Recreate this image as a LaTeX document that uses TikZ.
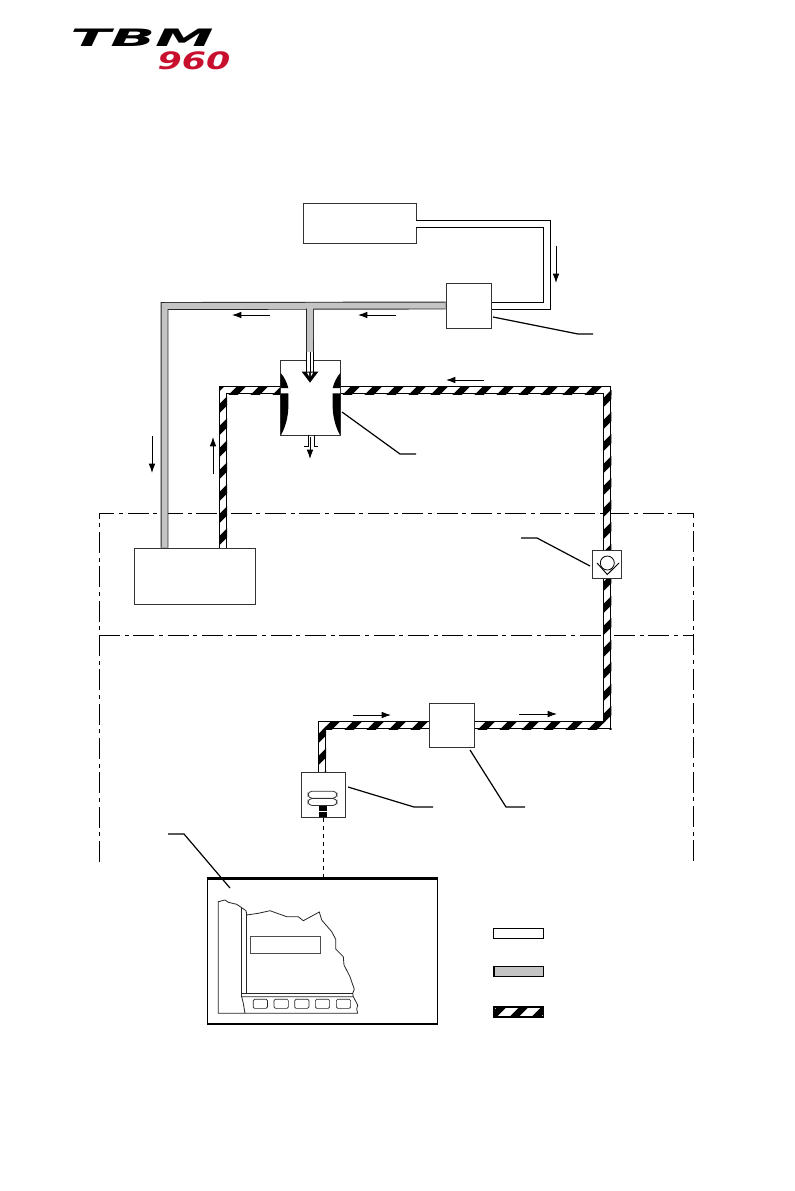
\documentclass[tikz,border=0pt]{standalone}
\usepackage{xcolor}
\usepackage{fontspec}
\newfontfamily\logofont{DejaVu Sans}
\usetikzlibrary{arrows.meta}
\definecolor{pipegrey}{HTML}{C4C4C4}
\definecolor{logored}{HTML}{C8102E}
\tikzset{
unitbox/.style 2 args={draw=black!80,fill=white,line width=0.7pt,inner sep=0pt,minimum width=#1*0.75pt,minimum height=#2*0.75pt},
whitepipe/.style={draw=black,line width=0.75pt,double=white,double distance=4.5pt},
greypipe/.style={draw=black!85,line width=0.7pt,double=pipegrey,double distance=4.5pt},
stripeline/.style={black,line width=4.8pt},
flowarrow/.style={-{Latex[length=7pt,width=5pt]},line width=0.7pt},
leaderline/.style={line width=0.9pt},
frameline/.style={line width=0.6pt,dash pattern=on 15.75pt off 3.5pt on 3pt off 3.5pt},
sketchline/.style={black!85,line width=0.6pt}
}
\newcommand{\hatchrun}[5]{
\begin{scope}
\clip (#1,#2) rectangle (#3,#4);
\foreach \n in {0,...,75} \draw[stripeline] (#5+22*\n,0) -- (0,#5+22*\n);
\end{scope}
}
\begin{document}
\begin{tikzpicture}[x=0.75pt,y=-0.75pt]
\useasboundingbox (0,0) rectangle (794,1191);
\fill[white] (0,0) rectangle (794,1191);
% logo
\node[font=\logofont\bfseries\itshape\fontsize{18}{18}\selectfont,xscale=2.45,inner sep=0pt] (logotbm) at (142,38) {TBM};
\node[font=\logofont\bfseries\itshape\fontsize{18}{18}\selectfont,xscale=1.45,inner sep=0pt,logored] (logonum) at (194,61) {960};
% outer zones
\draw[frameline] (99,862) -- (99,513) -- (693,513) -- (693,862);
\draw[frameline] (99,635) -- (693,635);
% units
\node[unitbox={113}{40}] (bleedbox) at (359.5,223.7) {};
\node[unitbox={45}{45}] (mixbox) at (468.5,305.5) {};
\node[unitbox={121}{56}] (cabinbox) at (194.5,576) {};
\node[unitbox={60}{74.5}] (jetbox) at (310.5,397.8) {};
\node[unitbox={29}{28}] (valvebox) at (607.3,564) {};
\node[unitbox={45}{44}] (flowbox) at (451.5,725.3) {};
\node[unitbox={44}{45}] (sensorbox) at (323,794.5) {};
% pipe corners
\foreach \nm/\x/\y in {feedNE/546.5/223.7, feedSE/546.5/305.5, greyNW/164.5/306, greyT/310/306, greyEnd/310/352, jetIn/310/372,
hotNW/223/390, jetL/282/390, jetR/339/390, hotNE/607.3/390, lowSE/607.3/725.3, lowSW/322/725.3}
\coordinate (\nm) at (\x,\y);
% white bleed pipe
\draw[whitepipe] (bleedbox.east) -- (feedNE) -- (feedSE) -- (mixbox.east);
% grey pipe
\draw[greypipe] (mixbox.west) -- (greyNW) -- (greyNW |- cabinbox.north) (greyT) -- (greyEnd);
% striped pipes
\draw[whitepipe] (hotNW |- cabinbox.north) -- (hotNW) -- (jetL);
\draw[whitepipe] (jetR) -- (hotNE) -- (valvebox.north);
\draw[whitepipe] (valvebox.south) -- (lowSE) -- (flowbox.east);
\draw[whitepipe] (flowbox.west) -- (lowSW) -- (lowSW |- sensorbox.north);
\hatchrun{219}{386}{227}{548}{12}
\hatchrun{219}{386}{281}{394}{12}
\hatchrun{340}{386}{611.3}{394}{16}
\hatchrun{603.3}{386}{611.3}{550}{16}
\hatchrun{603.3}{578}{611.3}{729.3}{2}
\hatchrun{474}{721.3}{611.3}{729.3}{2}
\hatchrun{318}{721.3}{429}{729.3}{1}
\hatchrun{318}{721.3}{326}{772}{1}
% redraw boxes over the pipes
\node[unitbox={45}{45}] at (mixbox) {};
\node[unitbox={121}{56}] at (cabinbox) {};
\node[unitbox={60}{74.5}] at (jetbox) {};
\node[unitbox={29}{28}] at (valvebox) {};
\node[unitbox={45}{44}] at (flowbox) {};
\node[unitbox={44}{45}] at (sensorbox) {};
\draw[greypipe] (greyT |- 0,340) -- (greyEnd);
% jet pump
\draw[whitepipe] (greyEnd) -- (jetIn);
\draw[line width=0.7pt] (greyEnd) -- (jetIn);
\fill (301.7,371.7) -- (318.3,371.7) -- (310,382.7) -- cycle;
\fill[white] (306.8,372.5) -- (309.2,372.5) -- (309.2,376.5) -- cycle;
\fill[white] (313.2,372.5) -- (310.8,372.5) -- (310.8,376.5) -- cycle;
\fill (280.7,373) .. controls (285,378) and (287,383) .. (288.3,388) -- (280.7,388) -- cycle;
\fill (280.7,393.3) -- (288.3,393.3) -- (288.3,408) .. controls (288,418) and (285,428) .. (281,435) -- cycle;
\fill (340.3,373) .. controls (336,378) and (334,383) .. (332.7,388) -- (340.3,388) -- cycle;
\fill (340.3,393.3) -- (332.7,393.3) -- (332.7,408) .. controls (333,418) and (336,428) .. (340,435) -- cycle;
\draw[line width=0.7pt] (303.5,446) -- (308,446) -- (308,435);
\draw[line width=0.7pt] (318,446) -- (314,446) -- (314,435);
% check valve
\draw[line width=0.6pt] (607.3,563) circle (7);
\draw[line width=0.7pt] (597,563) -- (607.3,574.5) -- (619,563);
% sensor
\node[draw=black!80,line width=0.6pt,rounded corners=3pt,minimum width=21.75pt,minimum height=5.25pt,inner sep=0pt] (pilltop) at (322.5,794.7) {};
\node[draw=black!80,line width=0.6pt,rounded corners=3pt,minimum width=21.75pt,minimum height=5.25pt,inner sep=0pt] (pillbot) at (322.5,802) {};
\node[fill=black,minimum width=5.8pt,minimum height=4.1pt,inner sep=0pt] (plugtop) at (323,808.5) {};
\node[fill=black,minimum width=5.8pt,minimum height=4.1pt,inner sep=0pt] (plugbot) at (323,814.7) {};
% panel
\node[draw,line width=0.9pt,inner sep=0pt,minimum width=173pt,minimum height=108.75pt] (panelbox) at (322.5,951.5) {};
\draw[line width=1.8pt] (panelbox.north west) -- (panelbox.north east);
\draw[dashed,line width=0.7pt] (plugbot) -- (plugbot |- panelbox.north);
\draw[sketchline] (246,1013.3) -- (218.3,1013.3) -- (218.3,901.7) -- (225,900) -- (228.3,902.3) -- (236.7,904.3) -- (241.7,907.7) -- (246,910.7) -- (246.7,915) -- (258.3,913.3) -- (270,910.7) -- (286.7,916.7) -- (298.3,916.7) -- (303.3,920.7) -- (319.3,912) -- (321.7,920) -- (331.7,931.7) -- (335.7,939.3) -- (335.7,949) -- (343.3,956.7) -- (344,965) -- (350,976.7) -- (354.3,989.3) -- (352.7,993.3) -- (353.3,996.7) -- (357.7,1005) -- (356.7,1009.3) -- (357.7,1013.3) -- (245,1013.3) -- (243.3,1003.3) -- (241.7,996.7) -- (353.3,996.7);
\draw[sketchline] (241.7,907.7) -- (241.7,996.7);
\draw[sketchline] (246,912) -- (246,993.3);
\draw[sketchline] (241.7,993.3) -- (352.7,993.3);
\node[draw=black!70,line width=0.6pt,inner sep=0pt,minimum width=52pt,minimum height=12.5pt] (panelplate) at (285.3,945) {};
\foreach \nm/\x in {knobA/260.3,knobB/281.2,knobC/301.8,knobD/322.5,knobE/343.5}
\node[draw=black!85,line width=0.5pt,rounded corners=1pt,inner sep=0pt,minimum width=10.7pt,minimum height=6.8pt] (\nm) at (\x,1003.8) {};
% flow arrows
\foreach \nm/\x/\y in {feedS/556/246, feedE/556/283, greyAS/270/315, greyAE/232/315, greyBS/396/315, greyBE/358/315,
hotAS/484/380, hotAE/446/380, greyCS/152/436, greyCE/152/473, hotBS/213/474, hotBE/213/437,
lowAS/353/715, lowAE/391/715, lowBS/519/714, lowBE/557/714, ventS/310/437, ventE/310/459}
\coordinate (\nm) at (\x,\y);
\foreach \a/\b in {feedS/feedE, greyAS/greyAE, greyBS/greyBE, hotAS/hotAE, greyCS/greyCE, hotBS/hotBE, lowAS/lowAE, lowBS/lowBE, ventS/ventE}
\draw[flowarrow] (\a) -- (\b);
% leader lines
\foreach \nm/\x/\y in {mixA/493/317, mixB/578/334, mixC/593/334, jetA/342/412, jetB/400/454, jetC/416/454,
valveA/590/566, valveB/537/538, valveC/521/538, sensA/348/787, sensB/414/807, sensC/433/807,
flowA/470/750, flowB/506/807, flowC/525/807, panelA/230/888, panelB/184/834, panelC/168/834}
\coordinate (\nm) at (\x,\y);
\foreach \a/\b/\c in {mixA/mixB/mixC, jetA/jetB/jetC, valveA/valveB/valveC, sensA/sensB/sensC, flowA/flowB/flowC, panelA/panelB/panelC}
\draw[leaderline] (\a) -- (\b) -- (\c);
% legend
\node[draw,line width=0.9pt,fill=white,inner sep=0pt,minimum width=37.5pt,minimum height=7.5pt] (legendwhite) at (518.3,933.3) {};
\node[draw,line width=0.9pt,fill=pipegrey,inner sep=0pt,minimum width=37pt,minimum height=7.5pt] (legendgrey) at (518.7,971.7) {};
\hatchrun{494}{1007}{543.5}{1017}{13}
\node[draw,line width=0.9pt,inner sep=0pt,minimum width=37pt,minimum height=7.5pt] (legendstripe) at (518.7,1012) {};
\end{tikzpicture}
\end{document}
